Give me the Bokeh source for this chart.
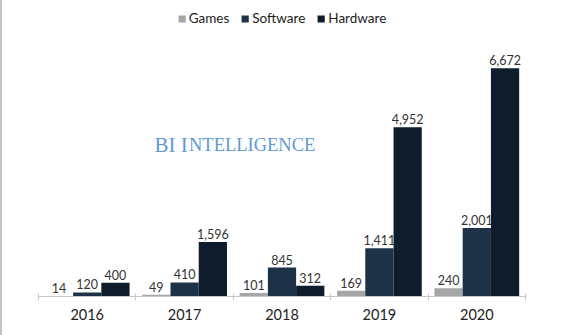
from bokeh.plotting import figure
from bokeh.models import ColumnDataSource, FixedTicker, Range1d, Legend, LegendItem, Label
from bokeh.core.properties import value
from bokeh.embed import file_html
from bokeh.resources import INLINE

years = ["2016", "2017", "2018", "2019", "2020"]
games = [14, 49, 101, 169, 240]
software = [120, 410, 845, 1411, 2001]
hardware = [400, 1596, 312, 4952, 6672]

series_names = ["Games", "Software", "Hardware"]
series_values = [games, software, hardware]
colors = ["#a6a6a6", "#1d3247", "#0e1c2c"]
offsets = [-0.29, 0.0, 0.29]
bar_w = 0.29

n = len(years)
centers = [i + 0.5 for i in range(n)]

p = figure(width=562, height=335, output_backend="svg", toolbar_location=None,
           x_range=Range1d(0, n), y_range=Range1d(0, 8655),
           y_axis_location=None, min_border_left=36, min_border_right=39,
           min_border_top=0, min_border_bottom=39, outline_line_color=None,
           background_fill_color="white", border_fill_color="white")
p.grid.visible = False

renderers = []
for name, vals, col, off in zip(series_names, series_values, colors, offsets):
    src = ColumnDataSource(dict(x=[c + off for c in centers], top=vals,
                                lab=[f"{v:,}" for v in vals]))
    r = p.vbar(x="x", top="top", width=bar_w, bottom=0, source=src,
               fill_color=col, line_color=None)
    p.text(x="x", y="top", text="lab", source=src, y_offset=-3,
           text_align="center", text_baseline="bottom",
           text_font=value("Lato"), text_font_size="12.5px", text_color="#333333")
    renderers.append((name, r))

legend = Legend(items=[LegendItem(label=nm, renderers=[r]) for nm, r in renderers],
                location="top_center", orientation="horizontal",
                label_text_font="Lato", label_text_font_size="13.5px",
                label_text_color="#222222", glyph_width=9, glyph_height=9,
                label_standoff=3, spacing=11, padding=0, margin=10,
                border_line_color=None, background_fill_alpha=0)
p.add_layout(legend)

ax = p.xaxis[0]
ax.ticker = FixedTicker(ticks=centers, minor_ticks=list(range(n + 1)))
ax.major_label_overrides = {c: y for c, y in zip(centers, years)}
ax.major_tick_out = 0
ax.major_tick_in = 0
ax.minor_tick_out = 4
ax.minor_tick_in = 3
ax.minor_tick_line_color = "#c8c8c8"
ax.axis_line_color = "#c8c8c8"
ax.major_label_text_font = "Lato"
ax.major_label_text_font_size = "14.5px"
ax.major_label_text_color = "#222222"
ax.major_label_standoff = 8

wm_color = "#5f9ad3"
p.add_layout(Label(x=1.19, y=4420, text="BI I", text_font="Liberation Serif",
                   text_font_size="21px", text_color=wm_color, text_baseline="alphabetic"))
p.add_layout(Label(x=1.545, y=4420, text="NTELLIGENCE", text_font="Liberation Serif",
                   text_font_size="18.5px", text_color=wm_color, text_baseline="alphabetic"))

p.styles = {"border-left": "2px solid #c4c4c4"}

open("out.html", "w").write(file_html(p, INLINE))
